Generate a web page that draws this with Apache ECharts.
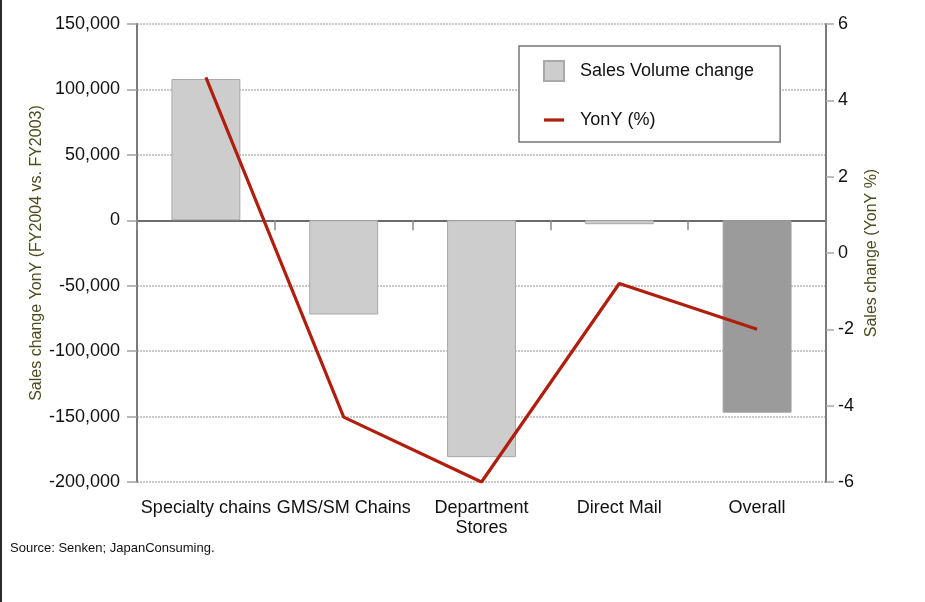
<!DOCTYPE html>
<html>
<head>
<meta charset="utf-8">
<title>Sales change by channel, FY2004 vs FY2003</title>
<script src="https://cdn.jsdelivr.net/npm/echarts@6/dist/echarts.min.js"></script>
<style>
  html, body { margin: 0; padding: 0; background: #fff; }
  #chart { width: 925px; height: 602px; }
</style>
</head>
<body>
<div id="chart"></div>
<script>
// Channels and their FY2004 vs FY2003 changes
const categories = ['Specialty chains', 'GMS/SM Chains', 'Department\nStores', 'Direct Mail', 'Overall'];
const volumeChange = [108000, -72000, -181000, -3000, -147000];
const yonyPct = [4.6, -4.3, -6.0, -0.8, -2.0];

// Axis ranges
const leftMin = -200000, leftMax = 150000, leftStep = 50000;
const rightMin = -6, rightMax = 6, rightStep = 2;

const FONT = "'Liberation Sans', Arial, Helvetica, sans-serif";
const olive = '#4b4b1c';
const lineRed = '#b01e0e';

const chart = echarts.init(document.getElementById('chart'), null, { renderer: 'canvas' });

// The total column is shaded darker than the channel columns
const barData = volumeChange.map((v, i) =>
  categories[i] === 'Overall'
    ? { value: v, itemStyle: { color: '#9b9b9b', borderColor: '#a0a0a0' } }
    : v
);

chart.setOption({
  animation: false,
  textStyle: { fontFamily: FONT },
  grid: { left: 137, right: 99, top: 24, bottom: 120, containLabel: false },
  legend: {
    orient: 'vertical',
    left: 519,
    top: 46,
    padding: [14, 26, 13, 24],
    itemWidth: 20,
    itemHeight: 20,
    itemGap: 29,
    backgroundColor: '#fff',
    borderColor: '#777',
    borderWidth: 1.5,
    selectedMode: false,
    textStyle: { fontSize: 18, color: '#111', fontFamily: FONT, padding: [0, 0, 0, 11] },
    data: [
      { name: 'Sales Volume change', icon: 'rect' },
      { name: 'YonY (%)', icon: 'path://M0,0H20V3.2H0Z' }
    ]
  },
  xAxis: [
    {
      type: 'category',
      position: 'bottom',
      data: categories,
      axisLine: { show: false, onZero: false },
      axisTick: { show: false },
      splitLine: { show: false },
      axisLabel: { interval: 0, fontSize: 18, color: '#111', margin: 16, lineHeight: 20, fontFamily: FONT }
    },
    {
      // zero baseline with category dividers
      type: 'category',
      position: 'top',
      data: categories,
      axisLine: { show: true, onZero: true, onZeroAxisIndex: 0, lineStyle: { color: '#6b6b6b', width: 2 } },
      axisTick: { show: true, inside: true, length: 10, lineStyle: { color: '#8a8a8a', width: 1.5 } },
      axisLabel: { show: false },
      splitLine: { show: false }
    }
  ],
  yAxis: [
    {
      type: 'value',
      position: 'left',
      min: leftMin,
      max: leftMax,
      interval: leftStep,
      axisLine: { show: true, lineStyle: { color: '#7a7a7a', width: 2 } },
      axisTick: { show: true, length: 10, lineStyle: { color: '#a0a0a0', width: 1.5 } },
      splitLine: { show: true, lineStyle: { color: '#c9c9c9', width: 2, type: [2, 1] } },
      axisLabel: {
        fontSize: 18, color: '#111', margin: 17, fontFamily: FONT,
        formatter: v => v.toLocaleString('en-US')
      },
      name: 'Sales change YonY (FY2004 vs. FY2003)',
      nameLocation: 'middle',
      nameRotate: 90,
      nameGap: 92,
      nameMoveOverlap: false,
      nameTextStyle: { color: olive, fontSize: 16, fontFamily: FONT }
    },
    {
      type: 'value',
      position: 'right',
      min: rightMin,
      max: rightMax,
      interval: rightStep,
      axisLine: { show: true, lineStyle: { color: '#7a7a7a', width: 2 } },
      axisTick: { show: true, length: 8, lineStyle: { color: '#a8a8a8', width: 1.5 } },
      splitLine: { show: false },
      axisLabel: { fontSize: 18, color: '#111', margin: 12, fontFamily: FONT },
      name: 'Sales change (YonY %)',
      nameLocation: 'middle',
      nameRotate: 90,
      nameGap: 38,
      nameMoveOverlap: false,
      nameTextStyle: { color: olive, fontSize: 16, fontFamily: FONT }
    }
  ],
  series: [
    {
      name: 'Sales Volume change',
      type: 'bar',
      xAxisIndex: 0,
      yAxisIndex: 0,
      barWidth: '50%',
      itemStyle: { color: '#cdcdcd', borderColor: '#a9a9a9', borderWidth: 1 },
      data: barData,
      z: 1
    },
    {
      name: 'YonY (%)',
      type: 'line',
      xAxisIndex: 0,
      yAxisIndex: 1,
      symbol: 'none',
      lineStyle: { color: lineRed, width: 3.2 },
      itemStyle: { color: lineRed },
      data: yonyPct,
      z: 5
    }
  ],
  graphic: [
    {
      type: 'rect',
      left: 0,
      top: 0,
      shape: { width: 2, height: 602 },
      style: { fill: '#2a2a2a' }
    },
    {
      type: 'text',
      left: 10,
      top: 542,
      style: { text: 'Source: Senken; JapanConsuming.', fontSize: 13, fill: '#111', fontFamily: FONT }
    }
  ]
});
</script>
</body>
</html>
